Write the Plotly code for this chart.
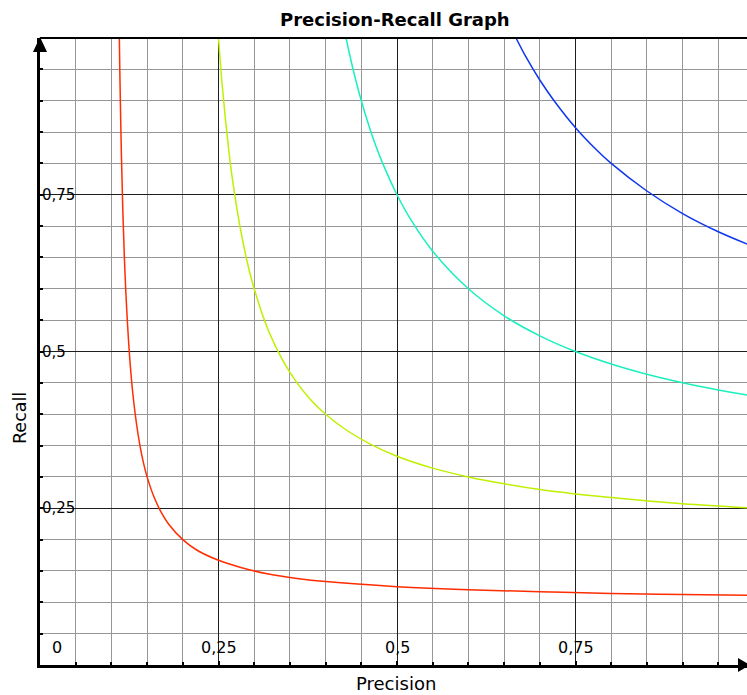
import plotly.graph_objects as go

# Iso-F curves (precision, recall)
red_p = [0.111, 0.112, 0.114, 0.116, 0.118, 0.12, 0.125, 0.13, 0.135, 0.14, 0.145, 0.15, 0.16, 0.17, 0.18, 0.2,
         0.22, 0.25, 0.28, 0.32, 0.36, 0.4, 0.5, 0.6, 0.7, 0.8, 0.9, 1.0]
red_r = [1.009, 0.933, 0.814, 0.725, 0.656, 0.6, 0.5, 0.433, 0.386, 0.35, 0.322, 0.3, 0.267, 0.243, 0.225, 0.2,
         0.183, 0.167, 0.156, 0.145, 0.138, 0.133, 0.125, 0.12, 0.117, 0.114, 0.1125, 0.111]

yel_p = [0.25, 0.255, 0.26, 0.265, 0.27, 0.28, 0.29, 0.3, 0.32, 0.34, 0.36, 0.38, 0.4, 0.43, 0.46, 0.5, 0.55,
         0.6, 0.65, 0.7, 0.8, 0.9, 1.0]
yel_r = [1.0, 0.927, 0.867, 0.815, 0.771, 0.7, 0.644, 0.6, 0.533, 0.486, 0.45, 0.422, 0.4, 0.374, 0.354, 0.333,
         0.314, 0.3, 0.289, 0.28, 0.267, 0.257, 0.25]

cyan_p = [0.4286, 0.435, 0.44, 0.45, 0.46, 0.47, 0.48, 0.5, 0.52, 0.55, 0.6, 0.65, 0.7, 0.75, 0.8, 0.85, 0.9,
          0.95, 1.0]
cyan_r = [1.0, 0.967, 0.943, 0.9, 0.8625, 0.829, 0.8, 0.75, 0.709, 0.66, 0.6, 0.557, 0.525, 0.5, 0.48, 0.4636,
          0.45, 0.4385, 0.4286]

blue_p = [0.6667, 0.68, 0.7, 0.72, 0.75, 0.78, 0.8, 0.85, 0.9, 0.95, 1.0]
blue_r = [1.0, 0.971, 0.933, 0.9, 0.857, 0.821, 0.8, 0.756, 0.72, 0.691, 0.667]

x_tick_vals = [0.25, 0.5, 0.75]
x_tick_text = ["0,25", "0,5", "0,75"]
y_tick_vals = [0.25, 0.5, 0.75]
y_tick_text = ["0,25", "0,5", "0,75"]

FONT = "DejaVu Sans"
W, H = 747, 695
ML, MT, MB, MR = 40, 38, 30, 0
PW = W - ML - MR
PH = H - MT - MB


def px(x):
    return (x - ML) / PW


def py(y):
    return (H - MB - y) / PH


fig = go.Figure()
for p, r, c in [(red_p, red_r, "rgb(255,45,0)"), (yel_p, yel_r, "rgb(190,240,0)"),
                (cyan_p, cyan_r, "rgb(25,240,190)"), (blue_p, blue_r, "rgb(15,55,240)")]:
    fig.add_trace(go.Scatter(x=p, y=r, mode="lines", line=dict(color=c, width=1.5, shape="spline", smoothing=1.0),
                             hoverinfo="skip", showlegend=False))

axis_common = dict(
    showticklabels=False, ticks="inside", ticklen=4, tickcolor="black", tickwidth=2,
    showline=True, linecolor="black", linewidth=3, zeroline=False,
    showgrid=True, gridcolor="rgb(30,30,30)", gridwidth=1,
    minor=dict(dtick=0.05, showgrid=True, gridcolor="rgb(150,150,150)", gridwidth=1,
               ticks="inside", ticklen=3, tickcolor="black", tickwidth=2),
)
fig.update_xaxes(range=[0, (W - ML) / 714.0], dtick=0.25, tick0=0, **axis_common)
fig.update_yaxes(range=[0, 1], dtick=0.25, tick0=0, **axis_common)

xtick_font = dict(size=16, family=FONT, color="black")
ytick_font = dict(size=15, family=FONT, color="black")
ann = []
for v, t in zip(x_tick_vals, x_tick_text):
    ann.append(dict(x=v, y=0.028, xref="x", yref="y", text=t, showarrow=False, xanchor="center", yanchor="middle",
                    font=xtick_font))
ann.append(dict(x=0.0235, y=0.028, xref="x", yref="y", text="0", showarrow=False, xanchor="center", yanchor="middle",
                font=xtick_font))
for v, t in zip(y_tick_vals, y_tick_text):
    ann.append(dict(x=0.0, y=v, xref="x", yref="y", text=t, showarrow=False, xanchor="left", yanchor="middle",
                    font=ytick_font))
ann.append(dict(x=0.0235, y=1.005, xref="x", yref="y", text="1", showarrow=False, xanchor="center", yanchor="middle",
                font=ytick_font))
ann.append(dict(x=px(395), y=py(19), xref="paper", yref="paper", text="<b>Precision-Recall Graph</b>",
                showarrow=False, font=dict(size=18, family=FONT, color="black"), xanchor="center", yanchor="middle"))
ann.append(dict(x=px(396), y=py(683), xref="paper", yref="paper", text="Precision",
                showarrow=False, font=dict(size=18, family=FONT, color="black"), xanchor="center", yanchor="middle"))
ann.append(dict(x=px(20), y=py(418), xref="paper", yref="paper", text="Recall", textangle=-90,
                showarrow=False, font=dict(size=17.5, family=FONT, color="black"), xanchor="center", yanchor="middle"))

shapes = [
    dict(type="line", xref="paper", yref="paper", x0=0, x1=1, y0=1, y1=1, line=dict(color="black", width=2)),
    dict(type="path", xref="paper", yref="paper",
         path=f"M {px(40)},{py(37)} L {px(33)},{py(52)} L {px(47)},{py(52)} Z",
         fillcolor="black", line=dict(color="black", width=0)),
    dict(type="path", xref="paper", yref="paper",
         path=f"M {px(750)},{py(665)} L {px(738)},{py(658)} L {px(738)},{py(672)} Z",
         fillcolor="black", line=dict(color="black", width=0)),
]

fig.update_layout(
    width=W, height=H, margin=dict(l=ML, r=MR, t=MT, b=MB),
    plot_bgcolor="white", paper_bgcolor="white",
    font=dict(family=FONT, size=14, color="black"),
    annotations=ann, shapes=shapes, showlegend=False,
)
fig.write_html("out.html")
